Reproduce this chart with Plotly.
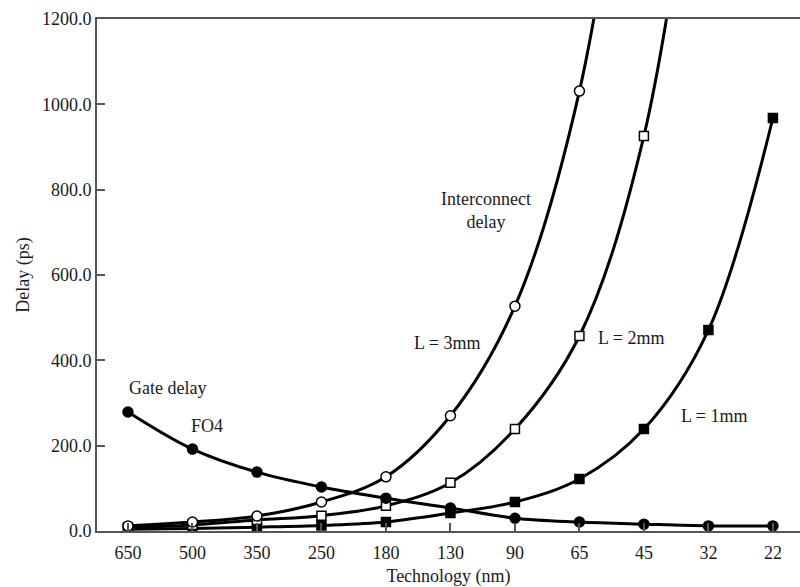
import plotly.graph_objects as go

technology = ["650", "500", "350", "250", "180", "130", "90", "65", "45", "32", "22"]
gate_fo4 = [279, 192, 138, 103, 77, 54, 30, 21, 16, 12, 12]
wire_3mm = [12, 21, 35, 68, 127, 270, 527, 1031, 2000, None, None]
wire_2mm = [8, 14, 26, 36, 59, 113, 239, 457, 926, 1900, None]
wire_1mm = [4, 6, 9, 13, 21, 42, 68, 122, 239, 471, 968]
y_ticks = [0, 200, 400, 600, 800, 1000, 1200]

xi = list(range(len(technology)))
FONT = "Liberation Serif"

fig = go.Figure()

def add(y, symbol, fill, size):
    xs = [x for x, v in zip(xi, y) if v is not None]
    ys = [v for v in y if v is not None]
    fig.add_trace(go.Scatter(
        x=xs, y=ys, mode="lines+markers",
        line=dict(color="black", width=3, shape="spline", smoothing=1.0),
        marker=dict(symbol=symbol, size=size, color=fill,
                    line=dict(color="black", width=1.5)),
        showlegend=False, cliponaxis=True))

add(wire_1mm, "square", "black", 9)
add(wire_2mm, "square", "white", 9)
add(wire_3mm, "circle", "white", 10)
add(gate_fo4, "circle", "black", 10)

ann_font = dict(family=FONT, size=18, color="#1a1a1a")
labels = [
    ("Gate delay", 0.62, 335),
    ("FO4", 1.22, 245),
    ("Interconnect<br>delay", 5.55, 752),
    ("L = 3mm", 4.95, 440),
    ("L = 2mm", 7.8, 452),
    ("L = 1mm", 9.08, 270),
]
for t, x, y in labels:
    fig.add_annotation(x=x, y=y, text=t, showarrow=False, font=ann_font,
                       xref="x", yref="y")

fig.update_layout(
    width=800, height=587,
    margin=dict(l=97, r=0, t=19, b=56),
    paper_bgcolor="white", plot_bgcolor="white",
    font=dict(family=FONT, size=18, color="#1a1a1a"),
    xaxis=dict(
        range=[-0.48, 10.42], tickvals=xi, ticktext=technology,
        showline=True, linecolor="#555", linewidth=2, mirror=True,
        ticks="inside", ticklen=8, tickwidth=1.5, tickcolor="#555",
        ticklabelstandoff=4,
        showgrid=False, zeroline=False,
        title=dict(text="Technology (nm)", font=dict(family=FONT, size=18), standoff=8),
    ),
    yaxis=dict(
        range=[0, 1200], tickvals=y_ticks, tickformat=".1f",
        showline=True, linecolor="#555", linewidth=2,
        ticks="inside", ticklen=8, tickwidth=1.5, tickcolor="#555",
        showgrid=False, zeroline=False,
        title=dict(text="Delay (ps)", font=dict(family=FONT, size=18), standoff=8),
    ),
)

fig.write_html("out.html")
